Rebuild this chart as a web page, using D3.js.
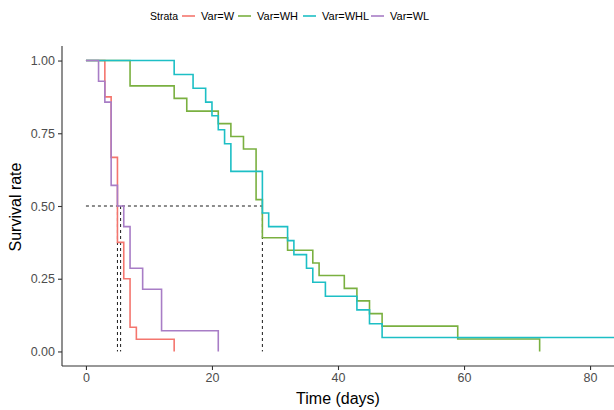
<!DOCTYPE html>
<html><head><meta charset="utf-8">
<script src="https://cdn.jsdelivr.net/npm/d3@7"></script>
<style>body{margin:0;background:#fff;} svg{display:block;font-family:"Liberation Sans",Arial,sans-serif;}</style>
</head><body><svg id="c" width="614" height="410"></svg>
<script>
const strata = ["Var=W","Var=WH","Var=WHL","Var=WL"];
const colors = ["#F4766E","#7AB040","#1DBFC5","#A87DC6"];
const timesW   = [0,3,4,5,6,7,8,14];
const survW    = [1,0.875,0.667,0.375,0.25,0.083,0.042,0];
const timesWH  = [0,7,14,16,21,23,25,27,28,32,36,37,41,43,45,47,59,72];
const survWH   = [1,0.913,0.870,0.826,0.783,0.739,0.696,0.522,0.391,0.348,0.304,0.261,0.217,0.174,0.130,0.087,0.043,0];
const timesWHL = [0,14,17,19,20,21,22,23,28,29,32,33,35,36,38,43,45,47,90];
const survWHL  = [1,0.952,0.905,0.857,0.810,0.762,0.714,0.619,0.476,0.429,0.381,0.333,0.286,0.238,0.190,0.143,0.095,0.048,0.048];
const timesWL  = [0,2,3,4,5,6,7,9,12,21];
const survWL   = [1,0.929,0.857,0.571,0.5,0.429,0.286,0.214,0.071,0];
const medians  = [5,5.5,28];
const xTicks = [0,20,40,60,80];
const yTicks = [0,0.25,0.5,0.75,1];

const svg = d3.select("#c");
const x = d3.scaleLinear().domain([-3.8,83.8]).range([62,614]);
const y = d3.scaleLinear().domain([-0.05,1.05]).range([366,46]);

const defs = svg.append("defs");
defs.append("clipPath").attr("id","clp").append("rect").attr("x",62).attr("y",40).attr("width",552).attr("height",326);

const g = svg.append("g").attr("clip-path","url(#clp)");
// median lines
g.append("path").attr("d", d3.line()([[x(0),y(0.5)],[x(d3.max(medians)),y(0.5)]]))
  .attr("stroke","#000").attr("stroke-width",0.9).attr("stroke-dasharray","3,3").attr("fill","none");
medians.forEach(m=>{
  g.append("path").attr("d", d3.line()([[x(m),y(0.5)],[x(m),y(0)]]))
   .attr("stroke","#000").attr("stroke-width",0.9).attr("stroke-dasharray","3,3").attr("fill","none");
});

const series = [[timesW,survW],[timesWH,survWH],[timesWHL,survWHL],[timesWL,survWL]];
const line = d3.line().x(d=>x(d[0])).y(d=>y(d[1])).curve(d3.curveStepAfter);
series.forEach((s,i)=>{
  const pts = s[0].map((t,j)=>[t,s[1][j]]);
  g.append("path").attr("d",line(pts)).attr("fill","none").attr("stroke",colors[i]).attr("stroke-width",1.6);
});

// axes
const xa = svg.append("g").attr("transform","translate(0,366)").call(d3.axisBottom(x).tickValues(xTicks).tickSize(4).tickPadding(3));
const ya = svg.append("g").attr("transform","translate(62,0)").call(d3.axisLeft(y).tickValues(yTicks).tickFormat(d3.format(".2f")).tickSize(4).tickPadding(3));
[xa,ya].forEach(a=>{
  a.select(".domain").attr("stroke","#333").attr("stroke-width",1.1);
  a.selectAll(".tick line").attr("stroke","#333").attr("stroke-width",1.1);
  a.selectAll(".tick text").attr("fill","#4d4d4d").style("font-size","12.5px").style("font-family","Liberation Sans, Arial, sans-serif");
});
xa.select(".domain").attr("d","M62,0H614");
ya.select(".domain").attr("d","M0,46V366");

svg.append("text").attr("x",338).attr("y",404).attr("text-anchor","middle").style("font-size","16px").attr("fill","#000").text("Time (days)");
svg.append("text").attr("transform","translate(21,207) rotate(-90)").attr("text-anchor","middle").style("font-size","16px").attr("fill","#000").text("Survival rate");

// legend
const lg = svg.append("g");
lg.append("text").attr("x",150).attr("y",20).style("font-size","10.5px").attr("fill","#000").text("Strata");
const keyX = [182,238,303,371];
strata.forEach((s,i)=>{
  lg.append("line").attr("x1",keyX[i]).attr("x2",keyX[i]+13).attr("y1",16).attr("y2",16).attr("stroke",colors[i]).attr("stroke-width",1.6);
  lg.append("text").attr("x",keyX[i]+19).attr("y",20).style("font-size","11px").attr("fill","#000").text(s);
});
</script></body></html>
